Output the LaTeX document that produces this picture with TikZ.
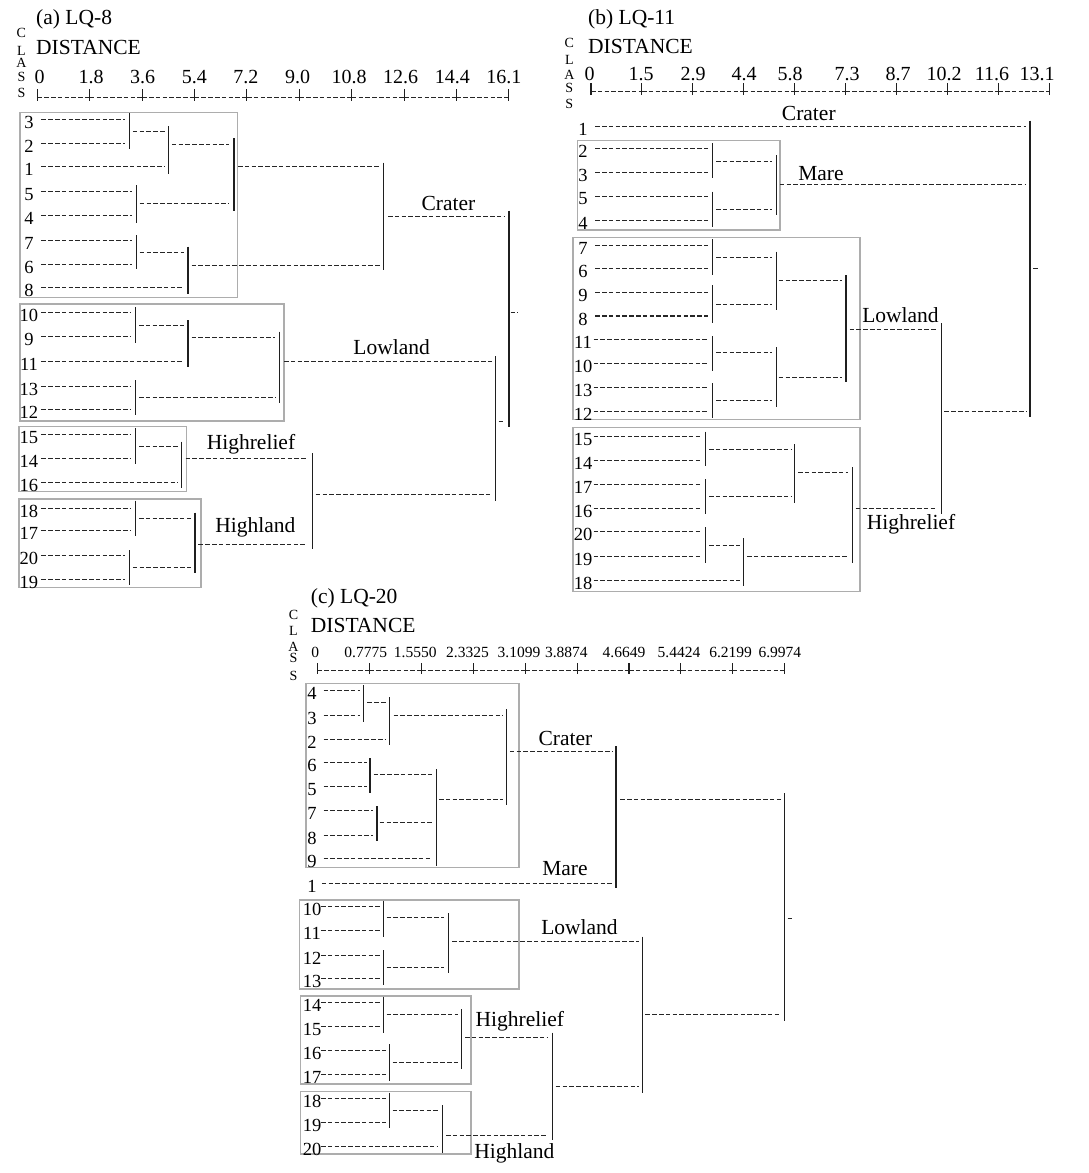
\documentclass[tikz,border=0pt]{standalone}
\usepackage{fontspec}
\setmainfont{Liberation Serif}
\usepackage{tikz}

\begin{document}
\begin{tikzpicture}[
  x=1pt, y=-1pt,
  hl/.style={draw=black!85, line width=1pt, dash pattern=on 4.6pt off 2.2pt},
  hlb/.style={hl, line width=1.6pt},
  vl/.style={draw=black!88, line width=1.1pt},
  grp/.style={draw=black!32, line width=1.5pt},
  leaf/.style={font=\fontsize{18.5}{20}\selectfont, inner sep=0pt},
  clu/.style={font=\fontsize{21.5}{24}\selectfont, inner sep=0pt},
  ttl/.style={font=\fontsize{21.5}{24}\selectfont, anchor=west, inner sep=0pt},
  tcl/.style={font=\fontsize{20}{22}\selectfont, anchor=base, inner sep=0pt},
  tcs/.style={font=\fontsize{15.5}{17}\selectfont, anchor=base, inner sep=0pt},
  cls/.style={font=\fontsize{14}{15}\selectfont, inner sep=0pt},
]
\useasboundingbox (0,0) rectangle (1088,1173);

% ---------------- (a) LQ-8 ----------------
\node[ttl] (atitle) at (36,19) {(a) LQ-8};
\node[ttl] (adist) at (36,47) {DISTANCE};
\foreach \c/\y [count=\k] in {C/32.5,L/51,A/63,S/77,S/93}
  \node[cls] (acls\k) at (21.4,\y) {\c};
\foreach \t [count=\i from 0] in {0,1.8,3.6,5.4,7.2,9.0,10.8,12.6,14.4,16.1}
  \node[tcl] (ta\i) at (39.5+51.6*\i,83.5) {\t};
\foreach \i in {0,...,8}
  \draw[hl] (37.3+52.4*\i,97) -- (37.3+52.4*\i+52.4,97);
\foreach \i in {0,...,9}
  \draw[vl] (37.3+52.4*\i,89) -- ++(0,12);

\draw[grp] (20,112.7) rectangle (237.4,297.5);
\draw[grp] (20,304) rectangle (284,421);
\draw[grp] (19,426.7) rectangle (186.3,491.7);
\draw[grp] (19,499) rectangle (200.8,587.7);

\foreach \n/\y/\xe in {3/119/124.9, 2/143.5/124.9, 1/166.7/165, 5/191.5/131.8,
    4/215.5/131.8, 7/240/131.8, 6/264.5/131.8, 8/287.3/183.5, 10/312.7/131,
    9/336.7/131, 11/361/183.5, 13/386/131, 12/409/131, 15/434/131,
    14/458.3/131, 16/482.3/177.7, 18/508.3/131, 17/530.7/131,
    20/555.7/125, 19/579/125}
{
  \node[leaf] (a\n) at (29,\y+3) {\n};
  \draw[hl] (41.4,\y) -- (\xe,\y);
}
\foreach \y/\xa/\xb in {131/132.8/165, 144/171.8/229.4, 166.7/238/379.5,
    252.7/139.7/183.5, 265/191.5/379.5, 216.7/388/504.4, 325/139/183.5,
    337.3/191.5/275.3, 397.3/139/275.3, 361/284/491.6, 446/139/177.7,
    458.3/185.6/307, 518.3/139/190.8, 567.3/132.8/190.8, 544/198.4/307,
    494/315.7/491.6, 421/498.5/504.4, 312.7/510.6/517.5}
  \draw[hl] (\xa,\y) -- (\xb,\y);
\draw[hlb] (139.7,203.3) -- (229.4,203.3);
\foreach \x/\ya/\yb in {129.4/113/149, 168.4/126/174, 234/138/210.7,
    136.3/185/222.7, 383.6/162.7/270, 136.3/235/269.3, 188/246.7/294.3,
    509/210.7/427, 135.6/307/343, 188/320/367, 279.5/331.7/403.3,
    135.6/380/415, 495.8/356/500.7, 135.6/428/464, 181.8/441.7/488.3,
    312.2/453/549.3, 135.6/500.7/536, 195/512.7/573.3, 129.4/550/585}
  \draw[vl] (\x,\ya) -- (\x,\yb);

\node[clu] (acrater) at (448.5,203.3) {Crater};
\node[clu] (alowland) at (391.6,347.3) {Lowland};
\node[clu] (ahighrelief) at (251,444) {Highrelief};
\node[clu] (ahighland) at (255.3,527.3) {Highland};

% ---------------- (b) LQ-11 ----------------
\node[ttl] (btitle) at (588,19.3) {(b) LQ-11};
\node[ttl] (bdist) at (588,46.7) {DISTANCE};
\foreach \c/\y [count=\k] in {C/43,L/60,A/75,S/88,S/103.5}
  \node[cls] (bcls\k) at (569.3,\y) {\c};
\foreach \t/\x [count=\i from 0] in {0/589.5,1.5/641,2.9/693,4.4/744,5.8/790,
    7.3/847,8.7/898,10.2/944,11.6/992,13.1/1037}
  \node[tcl] (tb\i) at (\x,80) {\t};
\foreach \i in {0,...,8}
  \draw[hl] (591+50.9*\i,91) -- (591+50.9*\i+50.9,91);
\foreach \i in {0,...,9}
  \draw[vl] (591+50.9*\i,83) -- ++(0,12);

\draw[grp] (577.3,140.7) rectangle (779.8,230);
\draw[grp] (572.8,237.3) rectangle (860.2,419.3);
\draw[grp] (572.8,427.3) rectangle (860.2,591.7);

\foreach \n/\y/\xs/\xe in {1/126/595.2/1025.8, 2/148/595.2/708.4,
    3/172/595.2/708.4, 5/196/595.2/708.4, 4/220/595.2/708.4,
    7/245/595.2/708.4, 6/268.5/595.2/708.4, 9/292/595.2/708.4,
    8/316/595.2/708.4, 11/339.5/593.5/708.4, 10/363/593.5/708.4,
    13/387/593.5/708.4, 12/411/593.5/708.4, 15/436.7/593.5/701.5,
    14/460.7/593.5/701.5, 17/484.3/593.5/701.5, 16/508.3/593.5/701.5,
    20/531.7/593.5/701.5, 19/556.7/593.5/701.5, 18/580.7/593.5/740}
{
  \node[leaf] (b\n) at (583,\y+3) {\n};
  \draw[hl] (\xs,\y) -- (\xe,\y);
}
\draw[hlb] (595.2,316) -- (708.4,316);
\foreach \y/\xa/\xb in {161/716/771.8, 209.3/716/771.8, 184/779.8/1025.8,
    257.3/716/771.8, 304/716/771.8, 280.7/778.7/841.9, 352.7/716/771.8,
    400/716/771.8, 377.3/778.7/841.9, 329.3/849.5/936.8, 449.3/709/791.2,
    496/709/791.2, 472.7/798/848, 545/709/740, 556.7/747/848,
    508.3/855.7/936.8, 411.7/944.3/1026.5, 268.3/1033.3/1038.5}
  \draw[hl] (\xa,\y) -- (\xb,\y);
\foreach \x/\ya/\yb in {712.5/143/178, 712.5/191.7/226.7, 776.3/155/215,
    712.5/239.3/275, 712.5/285/323, 776.3/251.7/310, 712.5/336/370.7,
    712.5/383.3/418.3, 776.3/347.3/406.7, 846/275/381.7, 941.2/323.3/514,
    1030/120.7/417.3, 705.6/431.7/466, 705.6/479.3/514, 794.6/444/502.7,
    705.6/527.3/562.7, 743.6/538.3/586, 852.2/467.3/563.3}
  \draw[vl] (\x,\ya) -- (\x,\yb);

\node[clu] (bcrater) at (808.8,113.3) {Crater};
\node[clu] (bmare) at (821,173.3) {Mare};
\node[clu] (blowland) at (900.5,315) {Lowland};
\node[clu] (bhighrelief) at (911,524.3) {Highrelief};

% ---------------- (c) LQ-20 ----------------
\node[ttl] (ctitle) at (310.7,598.3) {(c) LQ-20};
\node[ttl] (cdist) at (310.7,625) {DISTANCE};
\foreach \c/\y [count=\k] in {C/615,L/631,A/646.5,S/658.3,S/675.5}
  \node[cls] (ccls\k) at (293.5,\y) {\c};
\foreach \t/\x [count=\i from 0] in {0/315.2,0.7775/365.8,1.5550/415.3,
    2.3325/467.5,3.1099/519,3.8874/566.4,4.6649/624,5.4424/679,
    6.2199/730.6,6.9974/779.9}
  \node[tcs] (tc\i) at (\x,657) {\t};
\foreach \i in {0,...,8}
  \draw[hl] (317.6+51.9*\i,670.5) -- (317.6+51.9*\i+51.9,670.5);
\foreach \i in {0,...,9}
  \draw[vl] (317.6+51.9*\i,663.3) -- ++(0,11);

\draw[grp] (306.2,683.3) rectangle (519,867.3);
\draw[grp] (299.3,900) rectangle (519,989);
\draw[grp] (300.4,996) rectangle (470.8,1084);
\draw[grp] (300.4,1091.7) rectangle (470.8,1154);

\foreach \n/\y/\xs/\xe in {4/690/323.5/359.7, 3/715/323.5/359.7,
    2/739.3/323.5/385.6, 6/762.7/323.5/366.6, 5/786.7/323.5/366.6,
    7/810/323.5/372.8, 8/835/323.5/372.8, 9/858.3/323.5/431.5,
    1/883.3/321.8/612.2, 10/906.7/321/379.7, 11/930/321/379.7,
    12/955/321/379.7, 13/978.3/321/379.7, 14/1002.7/321/379.7,
    15/1026.7/321/379.7, 16/1050/321/385.6, 17/1074/321/385.6,
    18/1098.3/321/385.6, 19/1122.3/321/385.6, 20/1146.7/321/438.4}
{
  \node[leaf] (c\n) at (312,\y+3) {\n};
  \draw[hl] (\xs,\y) -- (\xe,\y);
}
\foreach \y/\xa/\xb in {702.7/367.3/385.6, 715/393.5/502.9,
    774.3/373.5/431.5, 822.7/379.7/431.5, 799/439/502.9, 751.7/509.8/612.2,
    799/620.2/780.6, 918.3/787.5/792.7, 917.7/386.6/444.2,
    967.3/386.6/444.2, 941.7/452.2/638.5, 1014/386.6/458,
    1062.7/392.5/458, 1037.7/465/547.7, 1110/392.5/438.4, 1135/446/547.7,
    1086.7/555.7/638.5, 1014/645.4/780.6}
  \draw[hl] (\xa,\y) -- (\xb,\y);
\foreach \x/\ya/\yb in {363.8/685/721.7, 389.7/697.3/745, 506.7/709.3/805,
    370/758.3/792.7, 436.3/769.3/866, 377/806/840.7, 616/746/888,
    784.7/793.3/1020.7, 383.2/900.7/936.7, 383.2/950/985,
    448.7/913.3/972.7, 642.6/936.7/1092.7, 383.2/996.7/1032.7,
    389.7/1044/1080.7, 461.5/1009.3/1069.3, 552.2/1032.7/1140,
    389.7/1092.7/1128.3, 442.5/1105/1152.7}
  \draw[vl] (\x,\ya) -- (\x,\yb);

\node[clu] (ccrater) at (565.5,738.3) {Crater};
\node[clu] (cmare) at (565,869) {Mare};
\node[clu] (clowland) at (579.5,927.3) {Lowland};
\node[clu] (chighrelief) at (519.8,1021.7) {Highrelief};
\node[clu] (chighland) at (514.3,1153.3) {Highland};
\end{tikzpicture}
\end{document}
